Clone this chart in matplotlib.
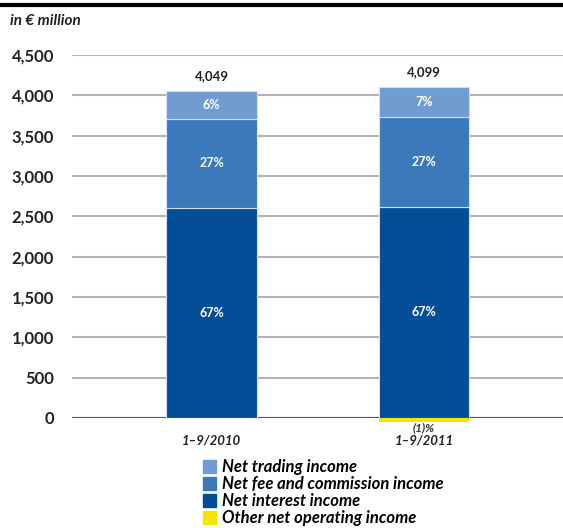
import matplotlib.pyplot as plt
from matplotlib.lines import Line2D
from matplotlib.patches import Patch

plt.rcParams['font.family'] = ['Lato', 'DejaVu Sans']

periods = ['1\u20139/2010', '1\u20139/2011']
totals = [4049, 4099]
interest = [2600, 2620]
fee = [1110, 1112]
trading = [339, 367]
other = [0, -45]
pct_interest = ['67%', '67%']
pct_fee = ['27%', '27%']
pct_trading = ['6%', '7%']
pct_other = ['', '(1)%']
yticks = [0, 500, 1000, 1500, 2000, 2500, 3000, 3500, 4000, 4500]

c_trading = '#6f9dd2'
c_fee = '#3b79ba'
c_interest = '#044d97'
c_other = '#f2e500'

fig = plt.figure(figsize=(5.63, 5.28), dpi=100)
ax = fig.add_axes([72 / 563, 110 / 528, 491 / 563, 363 / 528])

x = [0, 1]
w = 0.428
edge = dict(edgecolor='#cfe0f2', linewidth=0.8)
ax.bar(x, interest, w, color=c_interest, zorder=3, **edge)
ax.bar(x, fee, w, bottom=interest, color=c_fee, zorder=3, **edge)
bot2 = [a + b for a, b in zip(interest, fee)]
ax.bar(x, trading, w, bottom=bot2, color=c_trading, zorder=3, **edge)
ax.bar(x, other, w, color=c_other, zorder=3, clip_on=False, linewidth=0)

lab = dict(ha='center', va='center', fontsize=9, fontweight='bold', zorder=5)
for i in x:
    ax.text(i, interest[i] / 2, pct_interest[i], color='white', **lab)
    ax.text(i, interest[i] + fee[i] / 2, pct_fee[i], color='white', **lab)
    ax.text(i, bot2[i] + trading[i] / 2, pct_trading[i], color='white', **lab)
    ax.text(i, totals[i] + 120, f'{totals[i]:,}', color='#222222', va='bottom',
            ha='center', fontsize=9.5, fontweight='bold')
    if pct_other[i]:
        ax.text(i, -115, pct_other[i], color='#333333', ha='center', va='center',
                fontsize=8.5, fontweight='bold', style='italic')

ax.set_xlim(-0.6565, 1.654)
ax.set_ylim(0, 4500)
ax.set_yticks(yticks)
ax.set_yticklabels([f'{v:,}' for v in yticks], fontsize=12, fontweight='bold',
                   color='#222222')
ax.set_xticks(x)
ax.set_xticklabels(periods, fontsize=9.5, fontweight='bold', style='italic',
                   color='#222222')
ax.tick_params(axis='y', length=0, pad=13)
ax.tick_params(axis='x', length=0, pad=12)
for s in ax.spines.values():
    s.set_visible(False)
ax.grid(axis='y', color='#b4b4b4', linewidth=1.5, zorder=0)
ax.axhline(0, color='#555555', linewidth=1.5, zorder=2)

fig.text(10 / 563, 1 - 21 / 528, 'in \u20ac million', fontsize=11,
         fontweight='bold', style='italic', color='#222222', va='center')
fig.add_artist(Line2D([0, 1], [1 - 5 / 528, 1 - 5 / 528], color='black',
                      linewidth=3))

handles = [Patch(color=c_trading), Patch(color=c_fee), Patch(color=c_interest),
           Patch(color=c_other)]
labels = ['Net trading income', 'Net fee and commission income',
          'Net interest income', 'Other net operating income']
fig.legend(handles, labels, loc='upper left',
           bbox_to_anchor=(203 / 563, 1 - 459 / 528), frameon=False,
           handlelength=0.8, handleheight=0.8, handletextpad=0.35,
           labelspacing=0.07, borderaxespad=0, borderpad=0,
           prop=dict(family='Lato', weight='bold', style='italic', size=12))

fig.savefig('out.png', dpi=100)
